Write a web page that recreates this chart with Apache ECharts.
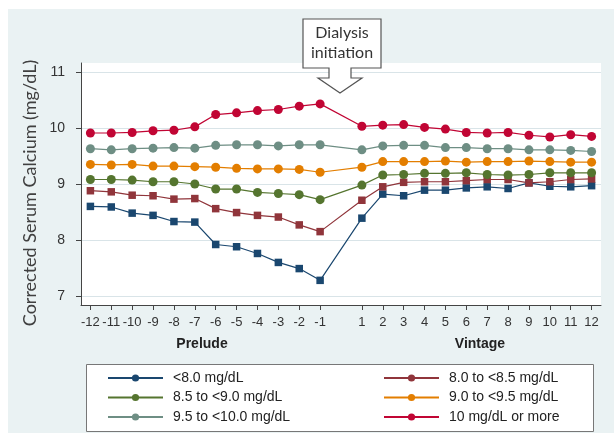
<!DOCTYPE html>
<html>
<head>
<meta charset="utf-8">
<script src="https://cdn.jsdelivr.net/npm/echarts@6/dist/echarts.min.js"></script>
<style>
  body { margin: 0; background: #fff; }
  #chart { width: 614px; height: 433px; }
</style>
</head>
<body>
<div id="chart"></div>
<script>
// months relative to dialysis initiation (no month 0)
const months = [-12, -11, -10, -9, -8, -7, -6, -5, -4, -3, -2, -1, 1, 2, 3, 4, 5, 6, 7, 8, 9, 10, 11, 12]
const yTicks = [7, 8, 9, 10, 11]

const lt80 = [8.60, 8.59, 8.48, 8.44, 8.33, 8.32, 7.92, 7.88, 7.76, 7.60, 7.49, 7.28, 8.39, 8.82, 8.79, 8.89, 8.89, 8.93, 8.95, 8.92, 9.02, 8.96, 8.95, 8.97]
const r80to85 = [8.88, 8.86, 8.80, 8.79, 8.73, 8.74, 8.56, 8.49, 8.44, 8.41, 8.27, 8.15, 8.71, 8.95, 9.03, 9.04, 9.04, 9.06, 9.08, 9.08, 9.02, 9.04, 9.08, 9.09]
const r85to90 = [9.08, 9.08, 9.07, 9.04, 9.04, 9.00, 8.91, 8.91, 8.85, 8.83, 8.81, 8.72, 8.98, 9.16, 9.17, 9.19, 9.19, 9.20, 9.17, 9.16, 9.17, 9.20, 9.20, 9.20]
const r90to95 = [9.35, 9.34, 9.35, 9.32, 9.32, 9.31, 9.30, 9.28, 9.27, 9.27, 9.26, 9.21, 9.30, 9.40, 9.40, 9.40, 9.41, 9.39, 9.40, 9.40, 9.41, 9.40, 9.39, 9.39]
const r95to100 = [9.63, 9.61, 9.63, 9.64, 9.65, 9.64, 9.69, 9.70, 9.70, 9.68, 9.70, 9.70, 9.61, 9.68, 9.69, 9.69, 9.65, 9.65, 9.63, 9.63, 9.61, 9.61, 9.60, 9.58]
const ge100 = [9.91, 9.91, 9.92, 9.95, 9.96, 10.02, 10.24, 10.27, 10.31, 10.33, 10.39, 10.43, 10.03, 10.05, 10.06, 10.01, 9.98, 9.92, 9.91, 9.92, 9.87, 9.84, 9.88, 9.85]

const groups = [
  { name: '<8.0 mg/dL', values: lt80, color: '#1a476f', square: true },
  { name: '8.0 to <8.5 mg/dL', values: r80to85, color: '#90353b', square: true },
  { name: '8.5 to <9.0 mg/dL', values: r85to90, color: '#55752f' },
  { name: '9.0 to <9.5 mg/dL', values: r90to95, color: '#e37e00' },
  { name: '9.5 to <10.0 mg/dL', values: r95to100, color: '#6e8e84' },
  { name: '10 mg/dL or more', values: ge100, color: '#c10534' },
]

const series = groups.map(g => ({
  name: g.name,
  type: 'line',
  symbol: 'circle',
  symbolSize: 9,
  color: g.color,
  lineStyle: { width: 1.2 },
  data: g.values.map((v, i) => g.square
    ? { value: [months[i], v], symbol: 'rect', symbolSize: 7.5 }
    : [months[i], v]),
}))

const legendBase = {
  orient: 'vertical',
  top: 371,
  padding: 0,
  itemWidth: 55,
  itemHeight: 9,
  itemGap: 5.5,
  selectedMode: false,
  textStyle: { fontFamily: 'Liberation Sans', fontSize: 14, color: '#222', lineHeight: 14, padding: [0, 0, 0, 5] },
}

const chart = echarts.init(document.getElementById('chart'))
chart.setOption({
  animation: false,
  backgroundColor: '#fff',
  grid: { left: 81, top: 63, width: 520, height: 242, show: true, backgroundColor: '#fff', borderWidth: 0 },
  xAxis: {
    type: 'value',
    min: -12.45,
    max: 12.45,
    axisLine: { onZero: false, lineStyle: { color: '#444' } },
    axisTick: { customValues: months, length: 5, lineStyle: { color: '#444' } },
    axisLabel: { customValues: months, margin: 11, fontFamily: 'Liberation Sans', fontSize: 13, color: '#333' },
    splitLine: { show: false },
  },
  yAxis: {
    type: 'value',
    min: 6.84,
    max: 11.16,
    axisLine: { show: true, onZero: false, lineStyle: { color: '#444' } },
    axisTick: { show: true, customValues: yTicks, length: 5, lineStyle: { color: '#444' } },
    axisLabel: { customValues: yTicks, margin: 16, fontFamily: 'Liberation Sans', fontSize: 14, color: '#333' },
    splitLine: { show: true, lineStyle: { color: '#d9e4e8', width: 1 } },
  },
  legend: [
    Object.assign({}, legendBase, { left: 107, data: [groups[0].name, groups[2].name, groups[4].name] }),
    Object.assign({}, legendBase, { left: 383, data: [groups[1].name, groups[3].name, groups[5].name] }),
  ],
  graphic: [
    { type: 'rect', z: -10, silent: true, shape: { x: 8, y: 9, width: 606, height: 424 }, style: { fill: '#eaf2f3' } },
    { type: 'rect', z: 1, silent: true, shape: { x: 86.5, y: 364.5, width: 507, height: 67 }, style: { fill: '#fff', stroke: '#777', lineWidth: 1 } },
    {
      type: 'polygon', z: 10, silent: true,
      shape: { points: [[303, 19], [381, 19], [381, 68], [351, 68], [351, 78], [362, 78], [340, 93], [318, 78], [329, 78], [329, 68], [303, 68]] },
      style: { fill: '#fff', stroke: '#555', lineWidth: 1.2 },
    },
    { type: 'text', z: 11, silent: true, x: 342, y: 43, style: { text: 'Dialysis\ninitiation', align: 'center', verticalAlign: 'middle', lineHeight: 20, font: '16px Lato', fill: '#333' } },
    { type: 'text', silent: true, x: 202, y: 344, style: { text: 'Prelude', align: 'center', verticalAlign: 'middle', font: 'bold 14px "Liberation Sans"', fill: '#222' } },
    { type: 'text', silent: true, x: 480, y: 344, style: { text: 'Vintage', align: 'center', verticalAlign: 'middle', font: 'bold 14px "Liberation Sans"', fill: '#222' } },
    { type: 'text', silent: true, x: 30, y: 193, rotation: Math.PI / 2, style: { text: 'Corrected Serum Calcium (mg/dL)', align: 'center', verticalAlign: 'middle', font: '18px Lato', fill: '#404040' } },
  ],
  series: series,
})
</script>
</body>
</html>
